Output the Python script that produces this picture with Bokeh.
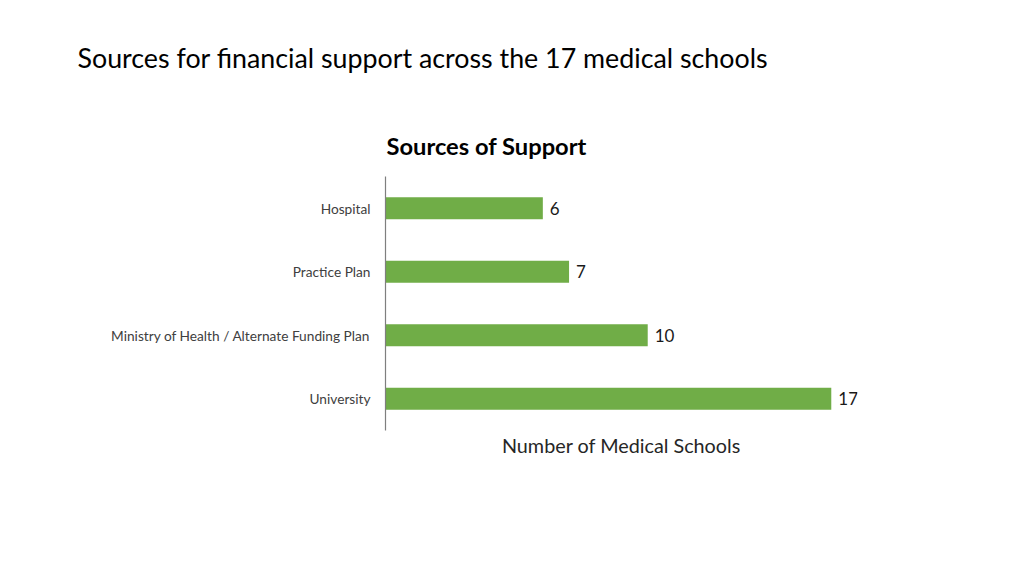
from bokeh.plotting import figure
from bokeh.models import FactorRange, Range1d, ColumnDataSource, Title
from bokeh.core.properties import value
from bokeh.embed import file_html
from bokeh.resources import INLINE

# ---- data ----
categories = ["Hospital", "Practice Plan", "Ministry of Health / Alternate Funding Plan", "University"]
counts = [6, 7, 10, 17]
main_title = "Sources for financial support across the 17 medical schools"
chart_title = "Sources of Support"
x_label = "Number of Medical Schools"

W, H = 1008, 560
FL, FR, FT, FB = 385, 857, 176, 430

src = ColumnDataSource(dict(cat=categories, n=counts, lab=[str(c) for c in counts]))

p = figure(width=W, height=H, output_backend="svg", toolbar_location=None, title=None,
           y_range=FactorRange(factors=list(reversed(categories)), range_padding=0),
           x_range=Range1d(0, 18),
           min_border_left=FL, min_border_right=W - FR,
           min_border_top=FT, min_border_bottom=H - FB)
p.outline_line_color = None
p.grid.visible = False
p.background_fill_color = "white"
p.border_fill_color = "white"

p.hbar(y="cat", right="n", left=0, height=0.35, source=src,
       fill_color="#70AD47", line_color=None)
p.text(x="n", y="cat", text="lab", source=src, x_offset=7,
       text_baseline="middle", text_align="left",
       text_font=value("Lato"), text_font_size="17px", text_color="#1a1a1a")

ya = p.yaxis[0]
ya.axis_line_color = "#7f7f7f"
ya.axis_line_width = 1.2
ya.major_tick_line_color = None
ya.minor_tick_line_color = None
ya.major_label_standoff = 9
ya.major_label_text_font = "Lato"
ya.major_label_text_font_size = "13.7px"
ya.major_label_text_color = "#404040"

xa = p.xaxis[0]
xa.ticker = []
xa.axis_line_color = None
xa.major_tick_line_color = None
xa.minor_tick_line_color = None
xa.axis_label = x_label
xa.axis_label_standoff = 2
xa.axis_label_text_font = "Lato"
xa.axis_label_text_font_style = "normal"
xa.axis_label_text_font_size = "19.8px"
xa.axis_label_text_color = "#262626"

# chart title (nearest to the frame)
p.add_layout(Title(text=chart_title, align="left", offset=1, text_font="Lato",
                   text_font_size="23.7px", text_font_style="bold",
                   text_color="#000000", standoff=33), "above")
# slide title
p.add_layout(Title(text=main_title, align="left", offset=77 - FL, text_font="Lato",
                   text_font_size="26.8px", text_font_style="normal",
                   text_color="#000000", standoff=79), "above")

open("out.html", "w").write(file_html(p, INLINE))
